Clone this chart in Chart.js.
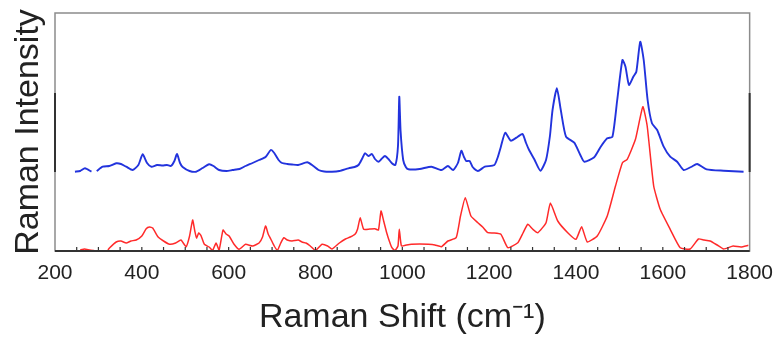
<!DOCTYPE html>
<html>
<head>
<meta charset="utf-8">
<script src="https://cdn.jsdelivr.net/npm/chart.js@4/dist/chart.umd.min.js"></script>
<style>
  html, body { margin: 0; padding: 0; background: #fff; }
  #wrap { width: 783px; height: 341px; }
</style>
</head>
<body>
<div id="wrap"><canvas id="raman"></canvas></div>
<script>
// Raman shift (cm-1) and intensity (arb. units)
const blueShift = [246, 258, 269, 284, 290, 296, 310, 325, 341, 352, 364, 379, 392, 402, 412, 422, 435, 448, 458, 467,
  475, 481, 488, 494, 510, 525, 540, 555, 565, 578, 595, 609, 625, 639, 655, 670, 685, 697, 705, 715,
  723, 735, 746, 760, 781, 795, 807, 820, 838, 855, 876, 890, 899, 907, 914, 922, 930, 937, 945, 952,
  960, 968, 976, 984, 990, 993, 996, 1002, 1008, 1014, 1040, 1067, 1090, 1105, 1117, 1128, 1136, 1142, 1147, 1155,
  1162, 1174, 1190, 1212, 1220, 1227, 1237, 1250, 1266, 1277, 1285, 1292, 1304, 1318, 1331, 1340, 1346, 1356, 1365, 1377,
  1396, 1410, 1419, 1442, 1457, 1472, 1484, 1495, 1507, 1514, 1522, 1532, 1539, 1548, 1556, 1565, 1575, 1587, 1602, 1617,
  1633, 1648, 1665, 1679, 1701, 1740, 1786];
const blueIntensity = [79.3, 80, 82.7, 79.3, null, 80, 84.3, 85, 87.7, 87, 84.3, 81, 86, 96.7, 88, 84.3, 86, 85.5, 86, 85,
  90, 97, 88, 84, 80, 79.3, 83, 86.7, 85, 81, 80, 81, 82, 85, 88, 91, 94, 101, 98, 91,
  88, 87, 86.5, 86, 88.7, 85, 81, 79.5, 79.3, 80, 82.7, 84, 86, 92, 97.7, 95, 97, 92, 89.3, 92,
  95, 92, 87.7, 86, 105, 154.3, 120, 91, 84, 81.7, 82, 84.3, 81, 85, 81, 88, 100.3, 94, 90, 90,
  84, 80, 84.3, 86, 94, 104.3, 118.3, 110.3, 114.3, 117, 108, 101, 91.7, 80.3, 91, 115, 141, 162.7, 141, 114.3,
  108.3, 96, 89.3, 93.7, 104.3, 112.7, 114.3, 151, 191, 184.3, 166, 174.3, 179.3, 209.3, 191, 151, 127.7, 121, 104.3, 94.3,
  89.3, 81, 84, 87, 81.7, 80.3, 79.3];

const redShift = [258, 268, 280, 290, 305, 322, 326, 341, 352, 364, 375, 387, 400, 410, 418, 425, 437, 450, 464, 478,
  490, 502, 510, 517, 522, 526, 531, 536, 544, 555, 563, 571, 578, 587, 594, 601, 612, 624, 639, 655,
  670, 678, 685, 691, 697, 705, 712, 720, 727, 735, 746, 760, 769, 778, 788, 800, 815, 828, 838, 855,
  869, 880, 891, 897, 903, 911, 925, 937, 945, 951, 957, 964, 970, 976, 983, 990, 993, 998, 1010, 1021,
  1040, 1060, 1075, 1090, 1105, 1124, 1134, 1145, 1158, 1174, 1185, 1197, 1210, 1227, 1243, 1266, 1278, 1289, 1300, 1312,
  1331, 1341, 1358, 1381, 1400, 1413, 1426, 1449, 1472, 1491, 1507, 1518, 1537, 1554, 1564, 1579, 1594, 1617, 1640, 1663,
  1682, 1695, 1709, 1725, 1740, 1762, 1780, 1797];
const redIntensity = [1, 2, 1, 0.5, null, 1, 3.3, 9, 10, 8, 10, 11, 15, 22.3, 24, 23, 14.3, 10, 6.7, 8,
  11, 4.3, 15, 31, 20, 13, 18, 15.7, 6.7, 4, 0.5, 8, 1, 21, 17, 15, 7, 1.7, 6.7, 5,
  8, 14, 25, 17, 12, 5, 0.5, 8, 13.3, 11, 10, 11, 9, 8, 5, 0.5, 6.7, 5, 2, 8,
  12, 14, 16.7, 22, 33.3, 21.7, 22, 22.3, 21, 40, 30, 18.3, 10, 3.3, 0.5, 5, 21.7, 5, 6, 6.7,
  7, 6.7, 6, 4.3, 10, 13.3, 35, 53.3, 35, 28.3, 24, 18.3, 18, 16.7, 3.3, 8.3, 18, 26.7, 22, 18.3,
  28.3, 48, 30, 18.3, 11.7, 24.3, 9, 15, 35, 65, 88.3, 91.7, 111.7, 144.3, 125, 65, 41.7, 21.7, 3.3, 2,
  12, 11, 10, 6, 2, 5, 4, 5.7];

const xTicks = [200, 400, 600, 800, 1000, 1200, 1400, 1600, 1800];

const toPoints = (xs, ys) => xs.map((x, i) => ({ x: x, y: ys[i] }));

// frame: grey box, dark bottom axis, dark segments on the side axes, inside ticks
const framePlugin = {
  id: 'frame',
  afterDraw(chart) {
    const { ctx, chartArea: a, scales } = chart;
    ctx.save();
    ctx.strokeStyle = '#8c8c8c';
    ctx.lineWidth = 1.5;
    ctx.strokeRect(a.left, a.top, a.right - a.left, a.bottom - a.top);

    ctx.strokeStyle = '#333';
    ctx.lineWidth = 2;
    ctx.beginPath();
    ctx.moveTo(a.left, a.bottom);
    ctx.lineTo(a.right, a.bottom);
    const y1 = scales.y.getPixelForValue(79);
    const y2 = scales.y.getPixelForValue(158);
    ctx.moveTo(a.left, y1);
    ctx.lineTo(a.left, y2);
    ctx.moveTo(a.right, y1);
    ctx.lineTo(a.right, y2);
    ctx.stroke();

    ctx.lineWidth = 1.2;
    ctx.beginPath();
    for (let v = 250; v < 1800; v += 50) {
      const px = scales.x.getPixelForValue(v);
      ctx.moveTo(px, a.bottom);
      ctx.lineTo(px, a.bottom - 4);
    }
    ctx.stroke();
    ctx.restore();
  }
};

const ctx = document.getElementById('raman').getContext('2d');
new Chart(ctx, {
  type: 'line',
  data: {
    datasets: [
      {
        label: 'blue',
        data: toPoints(blueShift, blueIntensity),
        borderColor: '#2233dd',
        borderWidth: 1.9,
        pointRadius: 0,
        spanGaps: false,
        tension: 0.2
      },
      {
        label: 'red',
        data: toPoints(redShift, redIntensity),
        borderColor: '#ff2a2a',
        borderWidth: 1.5,
        pointRadius: 0,
        spanGaps: false,
        tension: 0.15
      }
    ]
  },
  options: {
    responsive: true,
    maintainAspectRatio: false,
    animation: false,
    layout: { padding: { top: 13, right: 30, left: 0, bottom: 0 } },
    plugins: { legend: { display: false }, tooltip: { enabled: false } },
    scales: {
      x: {
        type: 'linear',
        min: 200,
        max: 1800,
        afterBuildTicks: (scale) => { scale.ticks = xTicks.map(v => ({ value: v })); },
        afterFit: (scale) => { scale.height = 90; },
        grid: { display: false, drawTicks: false },
        border: { display: false },
        ticks: {
          padding: 10,
          color: '#222',
          callback: (v) => String(v),
          font: { family: '"Liberation Sans", Arial, sans-serif', size: 21 }
        },
        title: {
          display: true,
          text: 'Raman Shift (cm⁻¹)',
          color: '#222',
          padding: { top: 0, bottom: 3 },
          font: { family: '"Liberation Sans", Arial, sans-serif', size: 34 }
        }
      },
      y: {
        min: 0,
        max: 238,
        afterFit: (scale) => { scale.width = 55; },
        grid: { display: false, drawTicks: false },
        border: { display: false },
        ticks: { display: false },
        title: {
          display: true,
          text: 'Raman Intensity',
          color: '#222',
          padding: { top: 8, bottom: 0 },
          font: { family: '"Liberation Sans", Arial, sans-serif', size: 34 }
        }
      }
    }
  },
  plugins: [framePlugin]
});
</script>
</body>
</html>
